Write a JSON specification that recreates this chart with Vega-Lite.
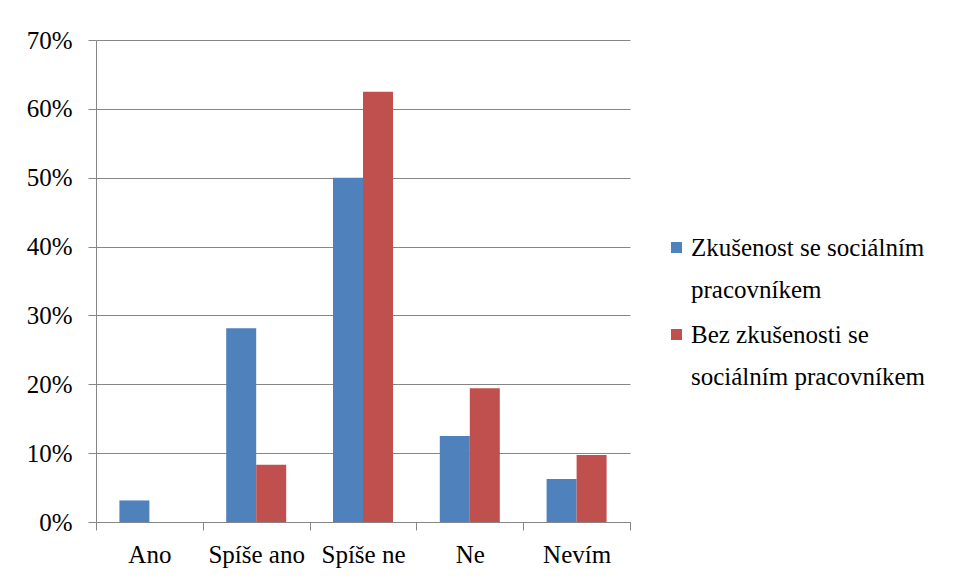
{
  "$schema": "https://vega.github.io/schema/vega-lite/v6.json",
  "width": 534,
  "height": 482,
  "autosize": {"type": "none"},
  "padding": {"left": 96, "top": 40, "right": 325, "bottom": 56},
  "background": "white",
  "data": {
    "values": [
      {"odpoved": "Ano", "skupina": "Zkušenost se sociálním pracovníkem", "podil": 0.0313},
      {"odpoved": "Spíše ano", "skupina": "Zkušenost se sociálním pracovníkem", "podil": 0.2813},
      {"odpoved": "Spíše ne", "skupina": "Zkušenost se sociálním pracovníkem", "podil": 0.5},
      {"odpoved": "Ne", "skupina": "Zkušenost se sociálním pracovníkem", "podil": 0.125},
      {"odpoved": "Nevím", "skupina": "Zkušenost se sociálním pracovníkem", "podil": 0.0625},
      {"odpoved": "Ano", "skupina": "Bez zkušenosti se sociálním pracovníkem", "podil": 0},
      {"odpoved": "Spíše ano", "skupina": "Bez zkušenosti se sociálním pracovníkem", "podil": 0.0833},
      {"odpoved": "Spíše ne", "skupina": "Bez zkušenosti se sociálním pracovníkem", "podil": 0.625},
      {"odpoved": "Ne", "skupina": "Bez zkušenosti se sociálním pracovníkem", "podil": 0.1944},
      {"odpoved": "Nevím", "skupina": "Bez zkušenosti se sociálním pracovníkem", "podil": 0.0972}
    ]
  },
  "mark": {"type": "bar"},
  "encoding": {
    "x": {
      "field": "odpoved",
      "type": "nominal",
      "sort": ["Ano", "Spíše ano", "Spíše ne", "Ne", "Nevím"],
      "scale": {"paddingInner": 0, "paddingOuter": 0},
      "axis": {
        "title": null,
        "labelAngle": 0,
        "tickBand": "extent",
        "domainColor": "#868686",
        "tickColor": "#868686",
        "tickSize": 8,
        "labelPadding": 12,
        "labelFont": "Liberation Serif",
        "labelFontSize": 25,
        "labelColor": "black",
        "grid": false
      }
    },
    "xOffset": {
      "field": "skupina",
      "sort": ["Zkušenost se sociálním pracovníkem", "Bez zkušenosti se sociálním pracovníkem"],
      "scale": {"paddingInner": 0, "paddingOuter": 0.78}
    },
    "y": {
      "field": "podil",
      "type": "quantitative",
      "scale": {"domain": [0, 0.7]},
      "axis": {
        "title": null,
        "format": ".0%",
        "values": [0, 0.1, 0.2, 0.3, 0.4, 0.5, 0.6, 0.7],
        "gridColor": "#868686",
        "domainColor": "#868686",
        "tickColor": "#868686",
        "tickSize": 8,
        "labelPadding": 16,
        "labelFont": "Liberation Serif",
        "labelFontSize": 25,
        "labelColor": "black"
      }
    },
    "color": {
      "field": "skupina",
      "type": "nominal",
      "scale": {
        "domain": ["Zkušenost se sociálním pracovníkem", "pracovníkem", "Bez zkušenosti se sociálním pracovníkem", "sociálním pracovníkem"],
        "range": ["#4F81BD", "transparent", "#C0504D", "transparent"]
      },
      "legend": {
        "title": null,
        "orient": "none",
        "legendX": 568,
        "legendY": 195,
        "symbolType": "square",
        "symbolSize": 121,
        "symbolStrokeWidth": 0,
        "labelFont": "Liberation Serif",
        "labelFontSize": 25,
        "labelColor": "black",
        "labelLimit": 0,
        "labelOffset": 2,
        "rowPadding": 16,
        "labelExpr": "datum.label == 'Zkušenost se sociálním pracovníkem' ? 'Zkušenost se sociálním' : datum.label == 'Bez zkušenosti se sociálním pracovníkem' ? 'Bez zkušenosti se' : datum.label",
        "encode": {
          "labels": {
            "update": {
              "dy": {"signal": "datum.index % 2 == 1 ? -11 : 0"}
            }
          }
        }
      }
    }
  },
  "config": {
    "font": "Liberation Serif",
    "view": {"stroke": null}
  }
}
